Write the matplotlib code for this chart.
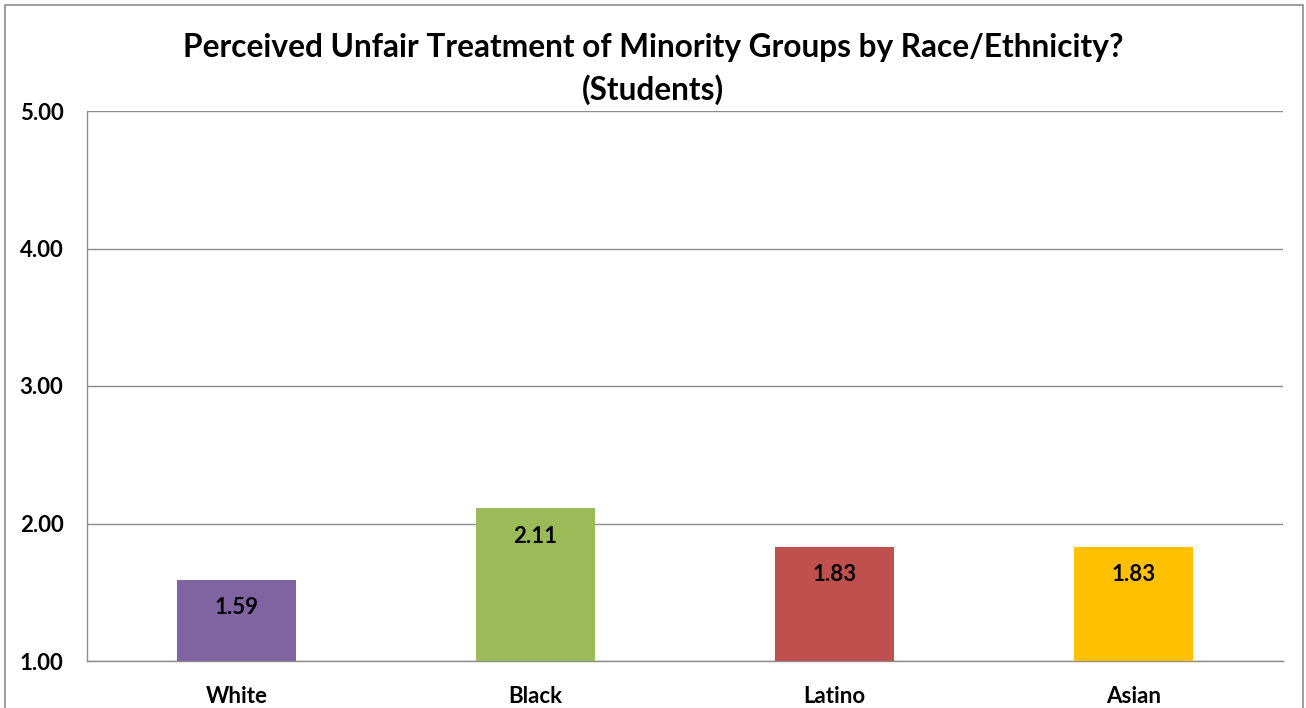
import matplotlib
matplotlib.use("Agg")
import matplotlib.pyplot as plt
from matplotlib.patches import Rectangle

categories = ["White", "Black", "Latino", "Asian"]
values = [1.59, 2.11, 1.83, 1.83]
colors = ["#8064A2", "#9BBB59", "#C0504D", "#FFC000"]
yticks = [1.0, 2.0, 3.0, 4.0, 5.0]
title = "Perceived Unfair Treatment of Minority Groups by Race/Ethnicity?\n(Students)"

plt.rcParams["font.family"] = ["Lato", "DejaVu Sans"]

W, H = 1306, 708
fig = plt.figure(figsize=(W / 100, H / 100), dpi=100)
ax = fig.add_axes([87 / W, 1 - 661 / H, (1283 - 87) / W, (661 - 111) / H])

x = list(range(len(categories)))
base = yticks[0]
heights = [v - base for v in values]
bars = ax.bar(x, heights, bottom=base, width=0.4, color=colors, zorder=3)

for rect, v in zip(bars, values):
    cx = rect.get_x() + rect.get_width() / 2
    ax.annotate(f"{v:.2f}", (cx, v), xytext=(0, -28), textcoords="offset pixels",
                ha="center", va="center", fontsize=16, fontweight="bold", color="black")

ax.set_xlim(-0.5, len(categories) - 0.5)
ax.set_ylim(yticks[0], yticks[-1])
ax.set_yticks(yticks)
ax.set_yticklabels([f"{t:.2f}" for t in yticks], fontsize=16, fontweight="bold")
ax.set_xticks(x)
ax.set_xticklabels(categories, fontsize=16, fontweight="bold")
ax.tick_params(axis="both", length=0)
ax.tick_params(axis="y", pad=17)
ax.tick_params(axis="x", pad=18)
ax.grid(axis="y", color="#8c8c8c", linewidth=1, zorder=0)
for side in ["top", "right"]:
    ax.spines[side].set_visible(False)
for side in ["left", "bottom"]:
    ax.spines[side].set_color("#8c8c8c")
    ax.spines[side].set_linewidth(1)

fig.text(653 / W, 1 - 69 / H, title, ha="center", va="center", fontsize=22.8,
         fontweight="bold", linespacing=1.5)

border = Rectangle((5 / W, -0.05), (1303 - 5) / W, 1 - 5 / H + 0.05,
                   transform=fig.transFigure, fill=False, edgecolor="#8c8c8c",
                   linewidth=1.2)
fig.patches.append(border)

fig.savefig("out.png", dpi=100)
